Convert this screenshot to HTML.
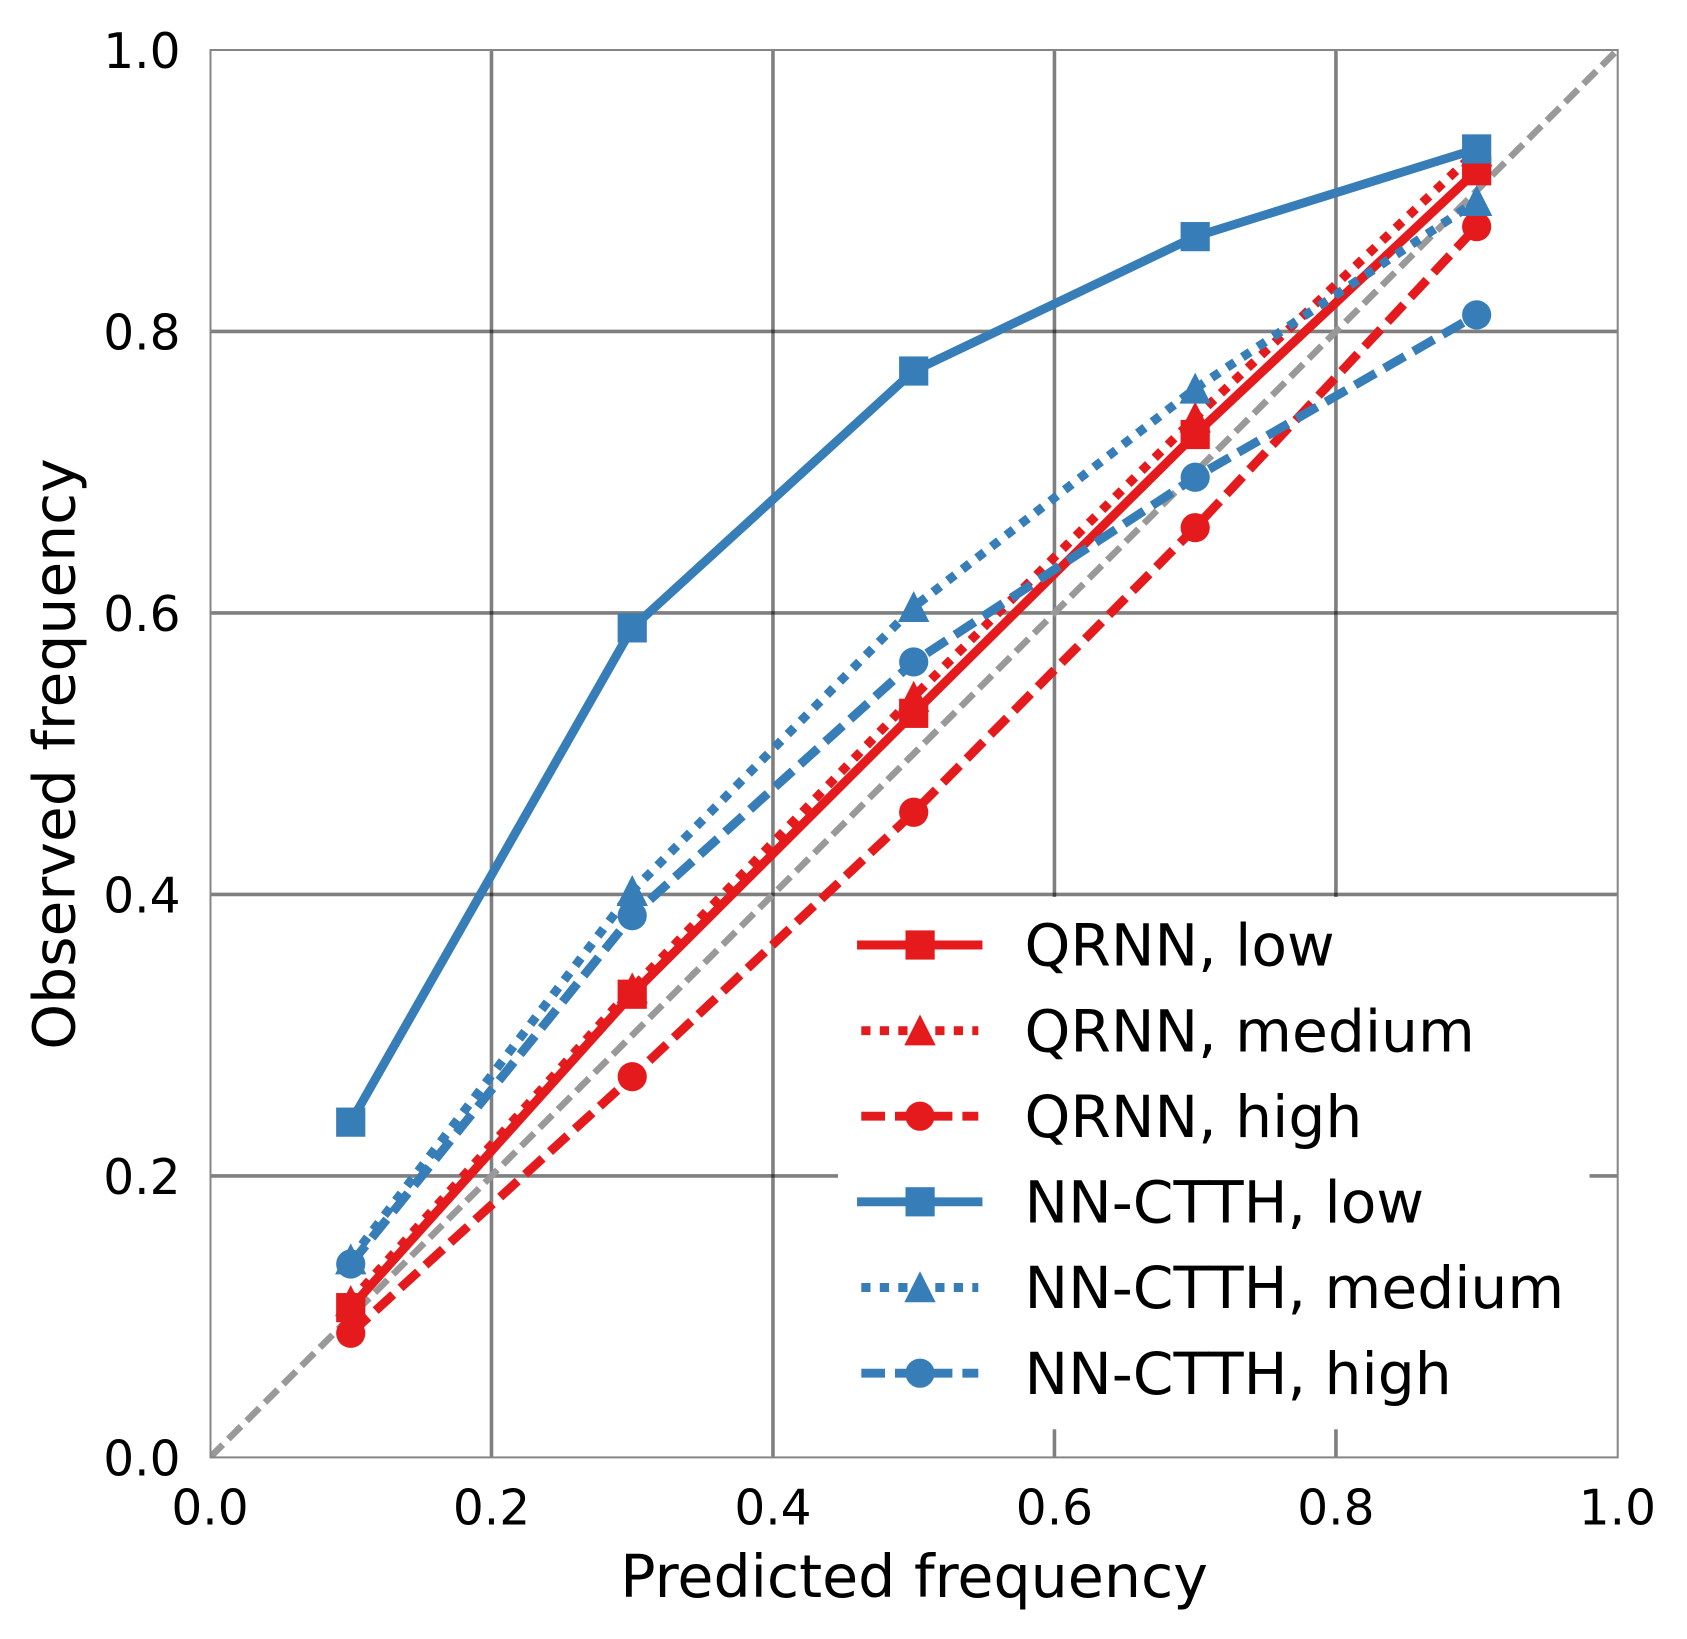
<!DOCTYPE html>
<html lang="en">
<head>
<meta charset="utf-8">
<title>Predicted vs observed frequency</title>
<style>
html,body{margin:0;padding:0;background:#fff;}
svg{display:block;}
text{font-family:"DejaVu Sans","Liberation Sans",sans-serif;fill:#000;}
</style>
</head>
<body>
<svg id="chart" xmlns="http://www.w3.org/2000/svg" width="1687" height="1639" viewBox="0 0 1687 1639">
  <defs>
    <clipPath id="plot-clip"><rect x="210.5" y="50" width="1407.2" height="1407.4"/></clipPath>
  </defs>
  <rect x="0" y="0" width="1687" height="1639" fill="#ffffff"/>
  <g id="grid"></g>
  <g id="diagonal" clip-path="url(#plot-clip)"></g>
  <g id="series"></g>

  <g>
    <rect x="838" y="897" width="751.5" height="532.3" fill="#ffffff"/>

    <g>
      <line x1="861.5" y1="945" x2="978" y2="945" stroke="#e41a1c" stroke-width="8.9" stroke-linecap="square"/>
      <rect x="905.5" y="930.4" width="29.2" height="29.2" fill="#e41a1c"/>
      <text x="1024.5" y="965.6" font-size="58.3">QRNN, low</text>
    </g>
    <g>
      <line x1="861.3" y1="1030.7" x2="978.3" y2="1030.7" stroke="#e41a1c" stroke-width="8.9" stroke-dasharray="9.2 9.3"/>
      <polygon points="920,1014.5 935.7,1045.4 904.3,1045.4" fill="#e41a1c"/>
      <text x="1024.5" y="1051.3" font-size="58.3">QRNN, medium</text>
    </g>
    <g>
      <line x1="861.3" y1="1116.2" x2="978.3" y2="1116.2" stroke="#e41a1c" stroke-width="8.9" stroke-dasharray="23.7 10"/>
      <circle cx="920" cy="1116.2" r="14.6" fill="#e41a1c"/>
      <text x="1024.5" y="1136.9" font-size="58.3">QRNN, high</text>
    </g>
    <g>
      <line x1="861.5" y1="1201.8" x2="978" y2="1201.8" stroke="#377eb8" stroke-width="8.9" stroke-linecap="square"/>
      <rect x="905.5" y="1187.2" width="29.2" height="29.2" fill="#377eb8"/>
      <text x="1024.5" y="1222.4" font-size="58.3">NN-CTTH, low</text>
    </g>
    <g>
      <line x1="861.3" y1="1287.5" x2="978.3" y2="1287.5" stroke="#377eb8" stroke-width="8.9" stroke-dasharray="9.2 9.3"/>
      <polygon points="920,1271.3 935.7,1302.2 904.3,1302.2" fill="#377eb8"/>
      <text x="1024.5" y="1308.1" font-size="58.3">NN-CTTH, medium</text>
    </g>
    <g>
      <line x1="861.3" y1="1373.2" x2="978.3" y2="1373.2" stroke="#377eb8" stroke-width="8.9" stroke-dasharray="23.7 10"/>
      <circle cx="920" cy="1373.2" r="14.6" fill="#377eb8"/>
      <text x="1024.5" y="1393.8" font-size="58.3">NN-CTTH, high</text>
    </g>
  </g>

  <g id="spines">
    <rect x="210.5" y="50" width="1407.2" height="1407.4" fill="none" stroke="#868686" stroke-width="2"/>
  </g>
  <g id="x-ticks"></g>
  <g id="y-ticks"></g>

  <text x="914.1" y="1597" font-size="58.6" text-anchor="middle">Predicted frequency</text>
  <text x="0" y="0" font-size="58.3" text-anchor="middle" transform="translate(74.5 754) rotate(-90)">Observed frequency</text>
</svg>

<script>
// Chart data
const predicted = [0.1, 0.3, 0.5, 0.7, 0.9];
const qrnnLow = [0.1064, 0.3291, 0.5287, 0.7268, 0.9142];
const qrnnMedium = [0.111, 0.3333, 0.5405, 0.7388, 0.928];
const qrnnHigh = [0.0882, 0.2705, 0.4584, 0.6606, 0.8745];
const nnLow = [0.2382, 0.5894, 0.7719, 0.8674, 0.9297];
const nnMedium = [0.1407, 0.4024, 0.6042, 0.7594, 0.8927];
const nnHigh = [0.1374, 0.3849, 0.5652, 0.6964, 0.8118];
const tickValues = [0, 0.2, 0.4, 0.6, 0.8, 1];
const tickLabels = ['0.0', '0.2', '0.4', '0.6', '0.8', '1.0'];

const SVG_NS = 'http://www.w3.org/2000/svg';
const RED = '#e41a1c';
const BLUE = '#377eb8';

function xScale(v) { return 210 + v * 1407.4; }
function yScale(v) { return 1457.4 - v * 1407.4; }

function make(tag, attrs, parent) {
  const el = document.createElementNS(SVG_NS, tag);
  Object.keys(attrs).forEach(function (k) { el.setAttribute(k, attrs[k]); });
  parent.appendChild(el);
  return el;
}

// Grid lines
const gridLayer = document.getElementById('grid');
tickValues.forEach(function (t) {
  if (t === 0 || t === 1) return;
  const vLine = make('line', { x1: xScale(t), x2: xScale(t), y1: yScale(0), y2: yScale(1), stroke: '#000000', 'stroke-opacity': 0.5, 'stroke-width': 3.6 }, gridLayer);
  
  
  const hLine = make('line', { x1: xScale(0), x2: xScale(1), y1: yScale(t), y2: yScale(t), stroke: '#000000', 'stroke-opacity': 0.5, 'stroke-width': 3.6 }, gridLayer);
  
  
});

// Identity diagonal
const diagonalLine = make('line', {
  x1: xScale(0), y1: yScale(0), x2: xScale(1), y2: yScale(1),
  stroke: '#999999', 'stroke-width': 6.6, 'stroke-dasharray': '18 7.9'
}, document.getElementById('diagonal'));



// Series
function drawSeries(values, color, dash, marker, name) {
  const layer = document.getElementById('series');
  const group = make('g', {}, layer);
  
  

  const pts = values.map(function (v, i) { return xScale(predicted[i]) + ',' + yScale(v); }).join(' ');
  const attrs = { points: pts, fill: 'none', stroke: color, 'stroke-width': 8.9, 'stroke-linejoin': 'round' };
  if (dash) attrs['stroke-dasharray'] = dash;
  const line = make('polyline', attrs, group);
  
  

  values.forEach(function (v, i) {
    const cx = xScale(predicted[i]);
    const cy = yScale(v);
    let m;
    if (marker === 'square') {
      m = make('rect', { x: cx - 14.6, y: cy - 14.6, width: 29.2, height: 29.2, fill: color }, group);
    } else if (marker === 'triangle') {
      m = make('polygon', {
        points: cx + ',' + (cy - 16) + ' ' + (cx + 15.7) + ',' + (cy + 15) + ' ' + (cx - 15.7) + ',' + (cy + 15),
        fill: color
      }, group);
    } else {
      m = make('circle', { cx: cx, cy: cy, r: 14.6, fill: color }, group);
    }
    
    
  });
}

drawSeries(qrnnLow, RED, null, 'square', 'qrnn-low');
drawSeries(qrnnMedium, RED, '9.2 9.3', 'triangle', 'qrnn-medium');
drawSeries(qrnnHigh, RED, '23.7 10', 'circle', 'qrnn-high');
drawSeries(nnLow, BLUE, null, 'square', 'nn-ctth-low');
drawSeries(nnMedium, BLUE, '9.2 9.3', 'triangle', 'nn-ctth-medium');
drawSeries(nnHigh, BLUE, '23.7 10', 'circle', 'nn-ctth-high');

// Tick labels
const xTickLayer = document.getElementById('x-ticks');
const yTickLayer = document.getElementById('y-ticks');
tickValues.forEach(function (t, i) {
  const xt = make('text', { x: xScale(t), y: 1524.5, 'font-size': 48.6, 'text-anchor': 'middle' }, xTickLayer);
  xt.textContent = tickLabels[i];
  
  
  const yt = make('text', { x: 180.5, y: yScale(t) + 18.2, 'font-size': 48.6, 'text-anchor': 'end' }, yTickLayer);
  yt.textContent = tickLabels[i];
  
  
});
</script>
</body>
</html>
